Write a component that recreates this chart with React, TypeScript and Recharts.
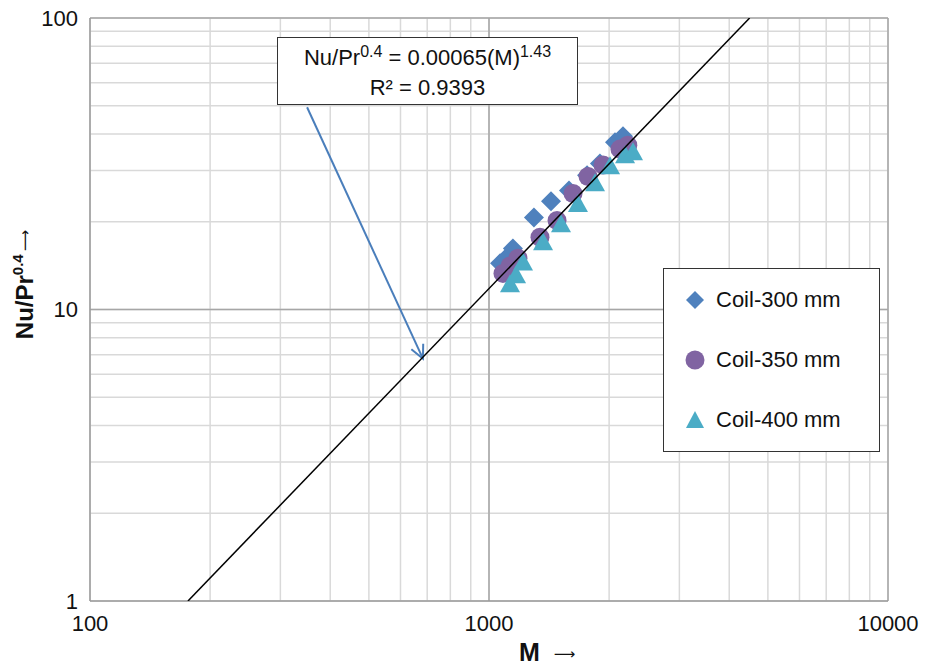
import React from "react";
import {
  ScatterChart,
  Scatter,
  XAxis,
  YAxis,
  CartesianGrid,
  ReferenceLine,
  Legend,
} from "recharts";

const FONT = '"Liberation Sans", Arial, sans-serif';
const ARROW_FONT = '"DejaVu Sans", sans-serif';

// values
const coil300M = [1066, 1103, 1148, 1296, 1430, 1587, 1761, 1897, 2069, 2167];
const coil300Nu = [14.4, 15.0, 16.2, 20.7, 23.5, 25.6, 28.9, 31.7, 37.5, 39.3];

const coil350M = [1084, 1129, 1182, 1342, 1481, 1624, 1771, 1931, 2129, 2228];
const coil350Nu = [13.3, 14.1, 15.0, 17.7, 20.2, 25.0, 28.6, 31.3, 35.5, 36.6];

const coil400M = [1129, 1169, 1217, 1366, 1515, 1671, 1844, 2011, 2193, 2296];
const coil400Nu = [12.2, 13.1, 14.5, 17.0, 19.6, 23.0, 27.1, 31.0, 33.8, 34.6];

// power-law fit line, ends where it meets the plot frame
const fitM = [176, 4500];
const fitNu = [1, 100];

// annotation arrow, from box to the line
const arrowM = [350, 683];
const arrowNu = [49.4, 6.78];

const xTicks = [100, 200, 300, 400, 500, 600, 700, 800, 900, 1000, 2000, 3000, 4000, 5000, 6000, 7000, 8000, 9000, 10000];
const yTicks = [1, 2, 3, 4, 5, 6, 7, 8, 9, 10, 20, 30, 40, 50, 60, 70, 80, 90, 100];
const labelled = [1, 10, 100, 1000, 10000];

const zip = (xs: number[], ys: number[]) => xs.map((x, i) => ({ x, y: ys[i] }));

const BLUE = "#4f81bd";
const PURPLE = "#8064a2";
const CYAN = "#4bacc6";

const Diamond = ({ cx, cy }: any) => (
  <polygon points={`${cx},${cy - 10} ${cx + 10},${cy} ${cx},${cy + 10} ${cx - 10},${cy}`} fill={BLUE} />
);
const Dot = ({ cx, cy }: any) => <circle cx={cx} cy={cy} r={9.5} fill={PURPLE} />;
const Tri = ({ cx, cy }: any) => (
  <polygon points={`${cx},${cy - 10} ${cx + 10},${cy + 8} ${cx - 10},${cy + 8}`} fill={CYAN} />
);

const Arrow = ({ x1, y1, x2, y2 }: any) => {
  const a = Math.atan2(y2 - y1, x2 - x1);
  const len = 15;
  const spread = 0.45;
  const p1 = [x2 - len * Math.cos(a - spread), y2 - len * Math.sin(a - spread)];
  const p2 = [x2 - len * Math.cos(a + spread), y2 - len * Math.sin(a + spread)];
  return (
    <g stroke="#4a7ebb" strokeWidth={2} fill="none">
      <line x1={x1} y1={y1} x2={x2} y2={y2} />
      <polyline points={`${p1[0]},${p1[1]} ${x2},${y2} ${p2[0]},${p2[1]}`} />
    </g>
  );
};

const legendItems = [
  { name: "Coil-300 mm", icon: <polygon points="10,1 19,10 10,19 1,10" fill={BLUE} /> },
  { name: "Coil-350 mm", icon: <circle cx={10} cy={10} r={9.5} fill={PURPLE} /> },
  { name: "Coil-400 mm", icon: <polygon points="10,1 19,18 1,18" fill={CYAN} /> },
];

const LegendBox = () => (
  <div
    style={{
      position: "relative",
      width: 217,
      height: 184,
      border: "1px solid #333",
      background: "#fff",
      boxSizing: "border-box",
      fontFamily: FONT,
      fontSize: 22,
      color: "#111",
    }}
  >
    {legendItems.map((it, i) => (
      <div
        key={it.name}
        style={{ position: "absolute", left: 21, top: 16 + i * 60, height: 30, display: "flex", alignItems: "center" }}
      >
        <svg width={20} height={20} style={{ marginRight: 11 }}>
          {it.icon}
        </svg>
        <span>{it.name}</span>
      </div>
    ))}
  </div>
);

const YTitle = ({ viewBox }: any) => {
  const x = 25;
  const y = viewBox.y + viewBox.height / 2 - 25;
  return (
    <text x={x} y={y} transform={`rotate(-90 ${x} ${y})`} textAnchor="middle" fontFamily={FONT} fill="#111">
      <tspan fontSize={24} fontWeight="bold" dy={8}>Nu/Pr</tspan>
      <tspan fontSize={15} fontWeight="bold" dy={-10}>0.4</tspan>
      <tspan fontSize={15} fontFamily={ARROW_FONT} dy={7} dx={3}>⟶</tspan>
    </text>
  );
};

const XTitle = ({ viewBox }: any) => {
  const x = viewBox.x + viewBox.width / 2 + 30;
  const y = viewBox.y + 60;
  return (
    <text x={x} y={y} fontFamily={FONT} fill="#111">
      <tspan fontSize={25} fontWeight="bold">M</tspan>
      <tspan fontSize={15} fontFamily={ARROW_FONT} dx={14} dy={-2}>⟶</tspan>
    </text>
  );
};

export default function App() {
  return (
    <div style={{ position: "absolute", left: 0, top: 0, width: 934, height: 667, background: "#fff" }}>
      <ScatterChart width={934} height={667} margin={{ top: 18, right: 46, bottom: 0, left: 0 }}>
        <CartesianGrid stroke="#d9d9d9" strokeWidth={1.5} />
        <XAxis
          type="number"
          dataKey="x"
          scale="log"
          domain={[100, 10000]}
          ticks={xTicks}
          interval={0}
          allowDataOverflow
          height={66}
          tickLine={false}
          tickMargin={8}
          axisLine={{ stroke: "#9a9a9a", strokeWidth: 1.5 }}
          tick={{ fontSize: 22, fill: "#111", fontFamily: FONT }}
          tickFormatter={(v: number) => (labelled.includes(v) ? String(v) : "")}
          label={<XTitle />}
        />
        <YAxis
          type="number"
          dataKey="y"
          scale="log"
          domain={[1, 100]}
          ticks={yTicks}
          interval={0}
          allowDataOverflow
          width={90}
          tickLine={false}
          tickMargin={6}
          axisLine={{ stroke: "#9a9a9a", strokeWidth: 1.5 }}
          tick={{ fontSize: 22, fill: "#111", fontFamily: FONT }}
          tickFormatter={(v: number) => (labelled.includes(v) ? String(v) : "")}
          label={<YTitle />}
        />
        <ReferenceLine x={1000} stroke="#a6a6a6" strokeWidth={1.5} />
        <ReferenceLine x={10000} stroke="#a6a6a6" strokeWidth={1.5} />
        <ReferenceLine y={10} stroke="#a6a6a6" strokeWidth={1.5} />
        <ReferenceLine y={100} stroke="#a6a6a6" strokeWidth={1.5} />
        <Scatter name="Coil-300 mm" data={zip(coil300M, coil300Nu)} shape={Diamond} isAnimationActive={false} />
        <Scatter name="Coil-350 mm" data={zip(coil350M, coil350Nu)} shape={Dot} isAnimationActive={false} />
        <Scatter name="Coil-400 mm" data={zip(coil400M, coil400Nu)} shape={Tri} isAnimationActive={false} />
        <Scatter
          name="fit"
          data={zip(fitM, fitNu)}
          line={{ stroke: "#000", strokeWidth: 1.5 }}
          shape={() => <g />}
          legendType="none"
          isAnimationActive={false}
        />
        <ReferenceLine
          segment={[
            { x: arrowM[0], y: arrowNu[0] },
            { x: arrowM[1], y: arrowNu[1] },
          ]}
          shape={Arrow}
        />
        <Legend
          layout="vertical"
          align="center"
          verticalAlign="middle"
          content={() => <LegendBox />}
          wrapperStyle={{ position: "absolute", left: 663, top: 268, width: 217, height: 184 }}
        />
      </ScatterChart>
      <div
        style={{
          position: "absolute",
          left: 277,
          top: 37,
          width: 301,
          height: 68,
          border: "1px solid #333",
          background: "#fff",
          boxSizing: "border-box",
          fontFamily: FONT,
          fontSize: 22,
          lineHeight: "28px",
          color: "#111",
          textAlign: "center",
          paddingTop: 6,
        }}
      >
        <div>
          Nu/Pr<span style={{ fontSize: 16, position: "relative", top: -8 }}>0.4</span> = 0.00065(M)
          <span style={{ fontSize: 16, position: "relative", top: -8 }}>1.43</span>
        </div>
        <div>R² = 0.9393</div>
      </div>
    </div>
  );
}
